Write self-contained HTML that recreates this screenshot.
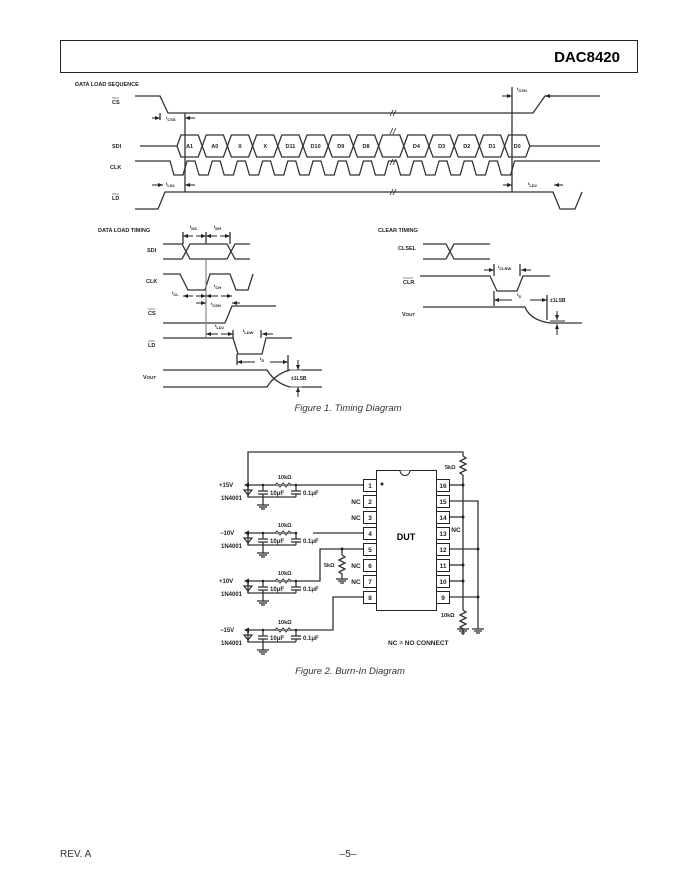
<!DOCTYPE html>
<html><head><meta charset="utf-8"><style>
body{margin:0;background:#fff;}
svg{display:block;font-family:"Liberation Sans",sans-serif;}
.l{fill:none;stroke:#333;stroke-width:1.3}
.g{fill:none;stroke:#888;stroke-width:1.2}
.t{font-size:5.5px;font-weight:bold;fill:#222}
.s{font-size:6.5px;font-weight:bold;fill:#222}
</style></head><body>
<svg width="680" height="880" viewBox="0 0 680 880">
<defs>
<marker id="a" viewBox="0 0 10 10" refX="10" refY="5" markerWidth="5" markerHeight="5" orient="auto"><path d="M0,1L10,5L0,9z" fill="#222"/></marker>
</defs>
<!-- header -->
<rect x="60.5" y="40.5" width="577" height="32" fill="none" stroke="#222"/>
<text x="620" y="62" text-anchor="end" style="font-size:15px;font-weight:bold">DAC8420</text>

<!-- DATA LOAD SEQUENCE -->
<text x="75" y="86" class="t">DATA LOAD SEQUENCE</text>
<text x="112" y="104" class="t">CS</text><line x1="112" y1="98" x2="119" y2="98" stroke="#222" stroke-width=".5"/>
<text x="112" y="148" class="t">SDI</text>
<text x="110" y="169" class="t">CLK</text>
<text x="112" y="200" class="t">LD</text><line x1="112" y1="194" x2="119" y2="194" stroke="#222" stroke-width=".5"/>
<polyline class="l" points="135,96 160,96 168,113 533,113 545,96 600,96"/>
<line class="l" x1="140" y1="146" x2="177" y2="146"/><line class="l" x1="530" y1="146" x2="600" y2="146"/>
<g class="l">
<polygon points="177,146 181,135 198.2,135 202.2,146 198.2,157 181,157"/>
<polygon points="202.2,146 206.2,135 223.4,135 227.4,146 223.4,157 206.2,157"/>
<polygon points="227.4,146 231.4,135 248.6,135 252.6,146 248.6,157 231.4,157"/>
<polygon points="252.6,146 256.6,135 273.8,135 277.8,146 273.8,157 256.6,157"/>
<polygon points="277.8,146 281.8,135 299,135 303,146 299,157 281.8,157"/>
<polygon points="303,146 307,135 324.2,135 328.2,146 324.2,157 307,157"/>
<polygon points="328.2,146 332.2,135 349.4,135 353.4,146 349.4,157 332.2,157"/>
<polygon points="353.4,146 357.4,135 374.6,135 378.6,146 374.6,157 357.4,157"/>
<polygon points="378.6,146 382.6,135 399.8,135 403.8,146 399.8,157 382.6,157"/>
<polygon points="403.8,146 407.8,135 425,135 429,146 425,157 407.8,157"/>
<polygon points="429,146 433,135 450.2,135 454.2,146 450.2,157 433,157"/>
<polygon points="454.2,146 458.2,135 475.4,135 479.4,146 475.4,157 458.2,157"/>
<polygon points="479.4,146 483.4,135 500.6,135 504.6,146 500.6,157 483.4,157"/>
<polygon points="504.6,146 508.6,135 525.8,135 529.8,146 525.8,157 508.6,157"/>
</g>
<g class="t" text-anchor="middle">
<text x="189.6" y="148">A1</text><text x="214.8" y="148">A0</text><text x="240" y="148">X</text><text x="265.2" y="148">X</text>
<text x="290.4" y="148">D11</text><text x="315.6" y="148">D10</text><text x="340.8" y="148">D9</text><text x="366" y="148">D8</text>
<text x="416.4" y="148">D4</text><text x="441.6" y="148">D3</text><text x="466.8" y="148">D2</text><text x="492" y="148">D1</text><text x="517.2" y="148">D0</text>
</g>
<polyline class="l" points="135,161 170,161 174,175 183,175 187,161 195,161 199,175 208.2,175 212.2,161 220.2,161 224.2,175 233.4,175 237.4,161 245.4,161 249.4,175 258.6,175 262.6,161 270.6,161 274.6,175 283.8,175 287.8,161 295.8,161 299.8,175 309,175 313,161 321,161 325,175 334.2,175 338.2,161 346.2,161 350.2,175 359.4,175 363.4,161 371.4,161 375.4,175 384.6,175 388.6,161 396.6,161 400.6,175 409.8,175 413.8,161 421.8,161 425.8,175 435,175 439,161 447,161 451,175 460.2,175 464.2,161 472.2,161 476.2,175 485.4,175 489.4,161 497.4,161 501.4,175 510.6,175 514.6,161 600,161"/>
<polyline class="l" points="135,209 158,209 165,192 553,192 560,209 575,209 582,192"/>
<g stroke="#222" stroke-width=".8" fill="none">
<path d="M390,116 l3,-6 M393,116 l3,-6"/><path d="M390,134 l3,-6 M393,134 l3,-6"/><path d="M390,165 l3,-6 M393,165 l3,-6"/><path d="M390,195 l3,-6 M393,195 l3,-6"/>
</g>
<line class="l" x1="185" y1="113" x2="185" y2="192"/>
<line class="l" x1="512" y1="87" x2="512" y2="192"/>
<line class="l" x1="160" y1="113" x2="160" y2="120"/>
<g stroke="#222" stroke-width="1">
<line x1="152" y1="118" x2="160" y2="118" marker-end="url(#a)"/><line x1="195" y1="118" x2="185" y2="118" marker-end="url(#a)"/>
<line x1="502" y1="96" x2="512" y2="96" marker-end="url(#a)"/><line x1="553" y1="96" x2="545" y2="96" marker-end="url(#a)"/>
<line x1="152" y1="185" x2="163" y2="185" marker-end="url(#a)"/><line x1="195" y1="185" x2="185" y2="185" marker-end="url(#a)"/>
<line x1="503" y1="185" x2="512" y2="185" marker-end="url(#a)"/><line x1="563" y1="185" x2="554" y2="185" marker-end="url(#a)"/>
</g>
<text x="166" y="119" class="t" style="font-size:4px">t<tspan dy="2">CSS</tspan></text>
<text x="517" y="90" class="t" style="font-size:4px">t<tspan dy="2">CSH</tspan></text>
<text x="166" y="185" class="t" style="font-size:4px">t<tspan dy="2">LD1</tspan></text>
<text x="528" y="185" class="t" style="font-size:4px">t<tspan dy="2">LD2</tspan></text>

<!-- DATA LOAD TIMING -->
<text x="98" y="232" class="t">DATA LOAD TIMING</text>
<text x="147" y="252" class="t">SDI</text>
<text x="146" y="283" class="t">CLK</text>
<text x="148" y="315" class="t">CS</text><line x1="148" y1="309" x2="155" y2="309" stroke="#222" stroke-width=".5"/>
<text x="148" y="347" class="t">LD</text><line x1="148" y1="341" x2="155" y2="341" stroke="#222" stroke-width=".5"/>
<text x="143" y="379" class="t">V<tspan style="font-size:4.5px">OUT</tspan></text>
<polyline class="l" points="163,244 182,244 190,259 227,259 235,244 250,244"/>
<polyline class="l" points="163,259 182,259 190,244 227,244 235,259 250,259"/>
<polyline class="l" points="163,274 180,274 188,290 205,290 210,274 230,274 236,290 248,290 253,274"/>
<polyline class="l" points="163,323 225,323 232,306 276,306"/>
<polyline class="l" points="163,338 233,338 238,354 262,354 266,338 292,338"/>
<path class="l" d="M163,370 L267,370 Q275,383 290,387 L322,387"/>
<path class="l" d="M163,387 L267,387 Q275,374 290,370 L322,370"/>
<line class="g" x1="206" y1="259" x2="206" y2="338"/>
<g class="l"><line x1="183" y1="232" x2="183" y2="244"/><line x1="206" y1="232" x2="206" y2="244"/><line x1="230" y1="232" x2="230" y2="244"/>
<line x1="233" y1="330" x2="233" y2="338"/><line x1="261" y1="330" x2="261" y2="338"/><line x1="237" y1="354" x2="237" y2="365"/><line x1="288" y1="355" x2="288" y2="370"/>
<line x1="290" y1="370" x2="302" y2="370" stroke="#999"/><line x1="290" y1="387" x2="302" y2="387" stroke="#999"/></g>
<g stroke="#222" stroke-width="1">
<line x1="193" y1="236" x2="183" y2="236" marker-end="url(#a)"/><line x1="196" y1="236" x2="206" y2="236" marker-end="url(#a)"/>
<line x1="217" y1="236" x2="206" y2="236" marker-end="url(#a)"/><line x1="220" y1="236" x2="230" y2="236" marker-end="url(#a)"/>
<line x1="193" y1="296" x2="183" y2="296" marker-end="url(#a)"/><line x1="196" y1="296" x2="206" y2="296" marker-end="url(#a)"/>
<line x1="218" y1="296" x2="206" y2="296" marker-end="url(#a)"/><line x1="221" y1="296" x2="232" y2="296" marker-end="url(#a)"/>
<line x1="196" y1="303" x2="206" y2="303" marker-end="url(#a)"/><line x1="240" y1="303" x2="232" y2="303" marker-end="url(#a)"/>
<line x1="218" y1="334" x2="206" y2="334" marker-end="url(#a)"/><line x1="221" y1="334" x2="233" y2="334" marker-end="url(#a)"/>
<line x1="273" y1="334" x2="262" y2="334" marker-end="url(#a)"/>
<line x1="255" y1="362" x2="237" y2="362" marker-end="url(#a)"/><line x1="270" y1="362" x2="288" y2="362" marker-end="url(#a)"/>
<line x1="298" y1="360" x2="298" y2="370" marker-end="url(#a)"/><line x1="298" y1="397" x2="298" y2="387" marker-end="url(#a)"/>
</g>
<g class="t" style="font-size:4px">
<text x="190" y="228">t<tspan dy="2">DS</tspan></text><text x="214" y="228">t<tspan dy="2">DH</tspan></text>
<text x="172" y="294">t<tspan dy="2">CL</tspan></text><text x="214" y="287">t<tspan dy="2">CH</tspan></text>
<text x="211" y="305">t<tspan dy="2">CSH</tspan></text><text x="215" y="327">t<tspan dy="2">LD2</tspan></text>
<text x="243" y="332">t<tspan dy="2">LDW</tspan></text><text x="260" y="360">t<tspan dy="2">S</tspan></text>
</g>
<text x="291" y="380" class="t" style="font-size:5px">±1LSB</text>
<text x="348" y="411" text-anchor="middle" style="font-size:9.5px;font-style:italic;fill:#333">Figure 1.  Timing Diagram</text>

<!-- CLEAR TIMING -->
<text x="378" y="232" class="t">CLEAR TIMING</text>
<text x="398" y="250" class="t">CLSEL</text>
<text x="403" y="284" class="t">CLR</text><line x1="403" y1="278" x2="413" y2="278" stroke="#222" stroke-width=".5"/>
<text x="402" y="316" class="t">V<tspan style="font-size:4.5px">OUT</tspan></text>
<polyline class="l" points="423,244 446,244 454,259 490,259"/>
<polyline class="l" points="423,259 446,259 454,244 490,244"/>
<polyline class="l" points="420,276 490,276 497,291 517,291 523,276 550,276"/>
<path class="l" d="M423,307 L525,307 Q530,320 550,323 L582,323"/>
<line x1="550" y1="321" x2="565" y2="321" stroke="#999" stroke-width="2"/>
<g class="l"><line x1="494" y1="264" x2="494" y2="276"/><line x1="520" y1="264" x2="520" y2="276"/><line x1="494" y1="291" x2="494" y2="306"/><line x1="547" y1="295" x2="547" y2="320"/></g>
<g stroke="#222" stroke-width="1">
<line x1="484" y1="270" x2="494" y2="270" marker-end="url(#a)"/><line x1="531" y1="270" x2="521" y2="270" marker-end="url(#a)"/>
<line x1="512" y1="300" x2="494" y2="300" marker-end="url(#a)"/><line x1="530" y1="300" x2="547" y2="300" marker-end="url(#a)"/>
<line x1="557" y1="311" x2="557" y2="320" marker-end="url(#a)"/><line x1="557" y1="335" x2="557" y2="324" marker-end="url(#a)"/>
</g>
<g class="t" style="font-size:4px"><text x="498" y="268">t<tspan dy="2">CLRW</tspan></text><text x="517" y="296">t<tspan dy="2">S</tspan></text></g>
<text x="550" y="302" class="t" style="font-size:5px">±1LSB</text>

<!-- BURN-IN -->
<rect x="376.5" y="470.5" width="60" height="140" fill="none" stroke="#222"/>
<path d="M400,470.5 a5,5 0 0 0 10,0" fill="#fff" stroke="#222"/>
<circle cx="382" cy="484" r="1.5" fill="#222"/>
<text x="406" y="540" text-anchor="middle" style="font-size:9px;font-weight:bold">DUT</text>
<g fill="#fff" stroke="#222">
<rect x="363.5" y="479.5" width="13" height="12"/><rect x="363.5" y="495.5" width="13" height="12"/><rect x="363.5" y="511.5" width="13" height="12"/><rect x="363.5" y="527.5" width="13" height="12"/>
<rect x="363.5" y="543.5" width="13" height="12"/><rect x="363.5" y="559.5" width="13" height="12"/><rect x="363.5" y="575.5" width="13" height="12"/><rect x="363.5" y="591.5" width="13" height="12"/>
<rect x="436.5" y="479.5" width="13" height="12"/><rect x="436.5" y="495.5" width="13" height="12"/><rect x="436.5" y="511.5" width="13" height="12"/><rect x="436.5" y="527.5" width="13" height="12"/>
<rect x="436.5" y="543.5" width="13" height="12"/><rect x="436.5" y="559.5" width="13" height="12"/><rect x="436.5" y="575.5" width="13" height="12"/><rect x="436.5" y="591.5" width="13" height="12"/>
</g>
<g class="s" text-anchor="middle">
<text x="370" y="488">1</text><text x="370" y="504">2</text><text x="370" y="520">3</text><text x="370" y="536">4</text><text x="370" y="552">5</text><text x="370" y="568">6</text><text x="370" y="584">7</text><text x="370" y="600">8</text>
<text x="443" y="488">16</text><text x="443" y="504">15</text><text x="443" y="520">14</text><text x="443" y="536">13</text><text x="443" y="552">12</text><text x="443" y="568">11</text><text x="443" y="584">10</text><text x="443" y="600">9</text>
<text x="356" y="504">NC</text><text x="356" y="520">NC</text><text x="356" y="568">NC</text><text x="356" y="584">NC</text><text x="456" y="532">NC</text>
</g>
<g class="l">
<polyline points="248,485 248,452 463,452 463,456"/>
<path d="M463,456 l3,2 l-6,3 l6,3 l-6,3 l6,3 l-6,3 l3,2"/>
<line x1="463" y1="475" x2="463" y2="610"/>
<path d="M463,610 l3,2 l-6,3 l6,3 l-6,3 l6,3 l-6,3 l3,2 v6"/>
<line x1="450" y1="485" x2="463" y2="485"/><line x1="450" y1="517" x2="463" y2="517"/><line x1="450" y1="565" x2="463" y2="565"/><line x1="450" y1="581" x2="463" y2="581"/>
<polyline points="450,501 478,501 478,629"/>
<line x1="450" y1="549" x2="478" y2="549"/><line x1="450" y1="597" x2="478" y2="597"/>
<line x1="457" y1="629" x2="469" y2="629"/><line x1="459" y1="631" x2="467" y2="631"/><line x1="461" y1="633" x2="465" y2="633"/>
<line x1="472" y1="629" x2="484" y2="629"/><line x1="474" y1="631" x2="482" y2="631"/><line x1="476" y1="633" x2="480" y2="633"/>
</g>
<g fill="#222"><circle cx="463" cy="485" r="1.5"/><circle cx="463" cy="517" r="1.5"/><circle cx="463" cy="565" r="1.5"/><circle cx="463" cy="581" r="1.5"/><circle cx="478" cy="549" r="1.5"/><circle cx="478" cy="597" r="1.5"/></g>
<text x="445" y="469" class="s" style="font-size:5.5px">5kΩ</text>
<text x="441" y="617" class="s" style="font-size:5.5px">10kΩ</text>
<g id="row">
<g class="l">
<line x1="245" y1="485" x2="296" y2="485"/>
<polyline points="248,485 248,497 263,497"/>
<path d="M248,487 v3 M244,490 h8 M244,490 l4,5 l4,-5z M248,495 v2" />
<line x1="263" y1="485" x2="263" y2="491"/><line x1="258" y1="491" x2="268" y2="491"/><line x1="258" y1="494" x2="268" y2="494"/><line x1="263" y1="494" x2="263" y2="505"/>
<line x1="257" y1="505" x2="269" y2="505"/><line x1="259" y1="507" x2="267" y2="507"/><line x1="261" y1="509" x2="265" y2="509"/>
<line x1="296" y1="485" x2="296" y2="491"/><line x1="291" y1="491" x2="301" y2="491"/><line x1="291" y1="494" x2="301" y2="494"/><line x1="296" y1="494" x2="296" y2="497"/><line x1="263" y1="497" x2="296" y2="497"/>
</g>
<path d="M275,485 l2,-2 l3,4 l3,-4 l3,4 l3,-4 l2,2" fill="#fff" stroke="#333"/>
<path d="M244,485 l5,-2.5 v5z" fill="#222"/>
<g fill="#222"><circle cx="248" cy="485" r="1.3"/><circle cx="263" cy="485" r="1.3"/><circle cx="296" cy="485" r="1.3"/></g>
<text x="278" y="479" class="s" style="font-size:5.5px">10kΩ</text>
<text x="270" y="495" class="s" style="font-size:6px">10μF</text>
<text x="303" y="495" class="s" style="font-size:6px">0.1μF</text>
<text x="221" y="500" class="s" style="font-size:6px">1N4001</text>
</g>
<use href="#row" y="48"/><use href="#row" y="96"/><use href="#row" y="145"/>
<g class="s" style="font-size:6px"><text x="219" y="487">+15V</text><text x="220" y="535">−10V</text><text x="219" y="583">+10V</text><text x="220" y="632">−15V</text></g>
<g class="l">
<line x1="296" y1="485" x2="363" y2="485"/>
<line x1="313" y1="533" x2="363" y2="533"/>
<polyline points="296,581 320,581 320,549 363,549"/>
<line x1="342" y1="549" x2="342" y2="555"/>
<path d="M342,555 l3,2 l-6,3 l6,3 l-6,3 l6,3 l-6,3 l3,2 v5"/>
<line x1="336" y1="579" x2="348" y2="579"/><line x1="338" y1="581" x2="346" y2="581"/><line x1="340" y1="583" x2="344" y2="583"/>
<polyline points="296,630 333,630 333,597 363,597"/>
</g>
<circle cx="342" cy="549" r="1.5" fill="#222"/>
<text x="324" y="567" class="s" style="font-size:5.5px">5kΩ</text>
<text x="388" y="645" class="s">NC = NO CONNECT</text>
<text x="350" y="674" text-anchor="middle" style="font-size:9.5px;font-style:italic;fill:#333">Figure 2.  Burn-In Diagram</text>

<text x="60" y="857" style="font-size:10px;fill:#333">REV. A</text>
<text x="348" y="857" text-anchor="middle" style="font-size:10px;fill:#333">–5–</text>
</svg>
</body></html>
